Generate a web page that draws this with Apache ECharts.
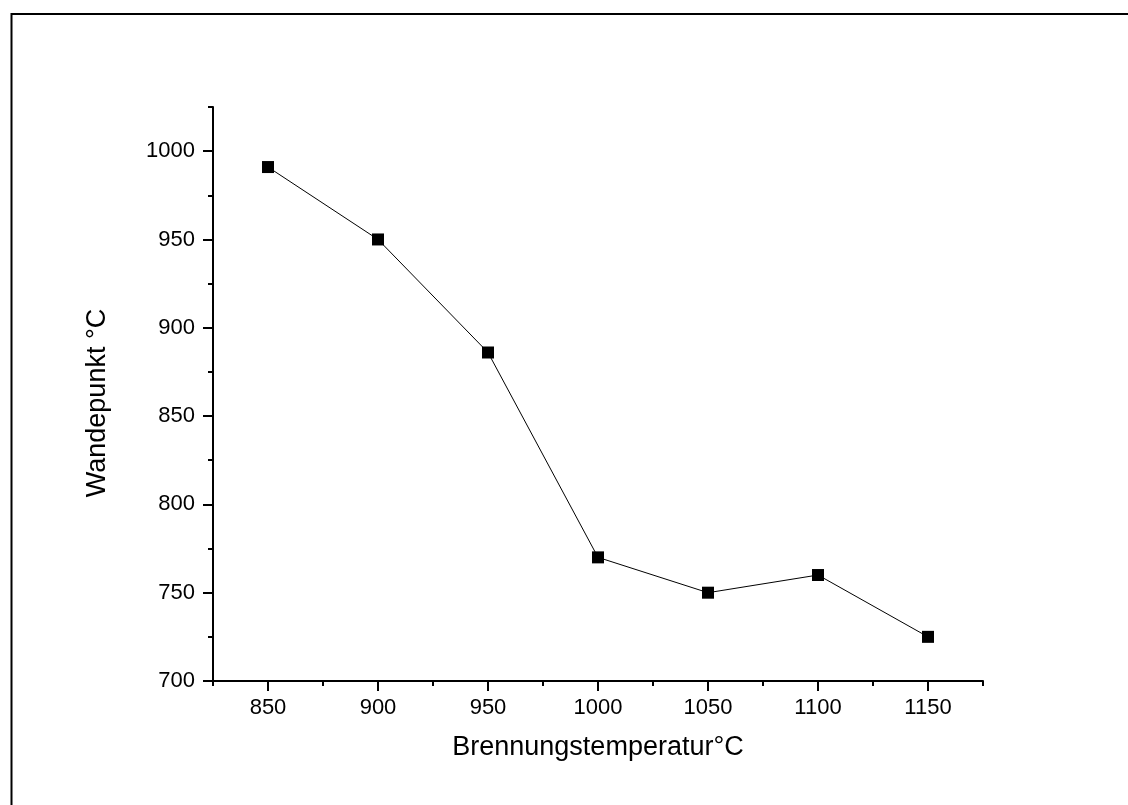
<!DOCTYPE html>
<html>
<head>
<meta charset="utf-8">
<script src="https://cdn.jsdelivr.net/npm/echarts@6/dist/echarts.min.js"></script>
<style>html,body{margin:0;padding:0;background:#fff}#c{width:1128px;height:805px}</style>
</head>
<body>
<div id="c"></div>
<script>
const temps = [850, 900, 950, 1000, 1050, 1100, 1150];
const wandepunkt = [991, 950, 886, 770, 750, 760, 725];
const xMajorTicks = [850, 900, 950, 1000, 1050, 1100, 1150];
const xMinorTicks = [825, 875, 925, 975, 1025, 1075, 1125, 1175];
const yMajorTicks = [700, 750, 800, 850, 900, 950, 1000];
const yMinorTicks = [725, 775, 825, 875, 925, 975, 1025];
const xTitle = 'Brennungstemperatur°C';
const yTitle = 'Wandepunkt °C';

const FONT = "Arial, 'Liberation Sans', sans-serif";
const chart = echarts.init(document.getElementById('c'), null, {renderer: 'canvas'});
const axisLineStyle = {color: '#000', width: 2};
const plain = v => String(v);
chart.setOption({
  animation: false,
  backgroundColor: '#fff',
  grid: {left: 213, right: 145, top: 107, bottom: 124, containLabel: false},
  xAxis: [{
    type: 'value', min: 825, max: 1175,
    axisLine: {show: true, lineStyle: axisLineStyle},
    axisTick: {show: true, inside: false, length: 10, lineStyle: {color: '#000', width: 2}, customValues: xMajorTicks},
    axisLabel: {show: true, customValues: xMajorTicks, formatter: plain, margin: 16, color: '#000', fontSize: 22, fontFamily: FONT},
    splitLine: {show: false},
    name: xTitle, nameLocation: 'middle', nameGap: 53,
    nameTextStyle: {color: '#000', fontSize: 27, fontFamily: FONT}
  }, {
    type: 'value', min: 825, max: 1175, position: 'bottom',
    axisLine: {show: false},
    axisTick: {show: true, inside: false, length: 5, lineStyle: {color: '#000', width: 2}, customValues: xMinorTicks},
    axisLabel: {show: false},
    splitLine: {show: false}
  }],
  yAxis: [{
    type: 'value', min: 700, max: 1025,
    axisLine: {show: true, lineStyle: axisLineStyle},
    axisTick: {show: true, inside: false, length: 10, lineStyle: {color: '#000', width: 2}, customValues: yMajorTicks},
    axisLabel: {show: true, customValues: yMajorTicks, formatter: plain, margin: 18, color: '#000', fontSize: 22, fontFamily: FONT},
    splitLine: {show: false},
    name: yTitle, nameLocation: 'middle', nameGap: 102, nameRotate: 90,
    nameTextStyle: {color: '#000', fontSize: 27, fontFamily: FONT, padding: [0, 18, 0, 0]}
  }, {
    type: 'value', min: 700, max: 1025, position: 'left', offset: 0,
    axisLine: {show: false},
    axisTick: {show: true, inside: false, length: 5, lineStyle: {color: '#000', width: 2}, customValues: yMinorTicks},
    axisLabel: {show: false},
    splitLine: {show: false}
  }],
  graphic: [{
    type: 'rect', silent: true, z: 100,
    shape: {x: 11.5, y: 14, width: 1300, height: 1000},
    style: {fill: 'none', stroke: '#000', lineWidth: 2}
  }],
  series: [{
    type: 'line', xAxisIndex: 0, yAxisIndex: 0,
    data: temps.map((t, i) => [t, wandepunkt[i]]),
    symbol: 'rect', symbolSize: 12,
    itemStyle: {color: '#000'},
    lineStyle: {color: '#000', width: 1},
    z: 5
  }]
});
</script>
</body>
</html>
